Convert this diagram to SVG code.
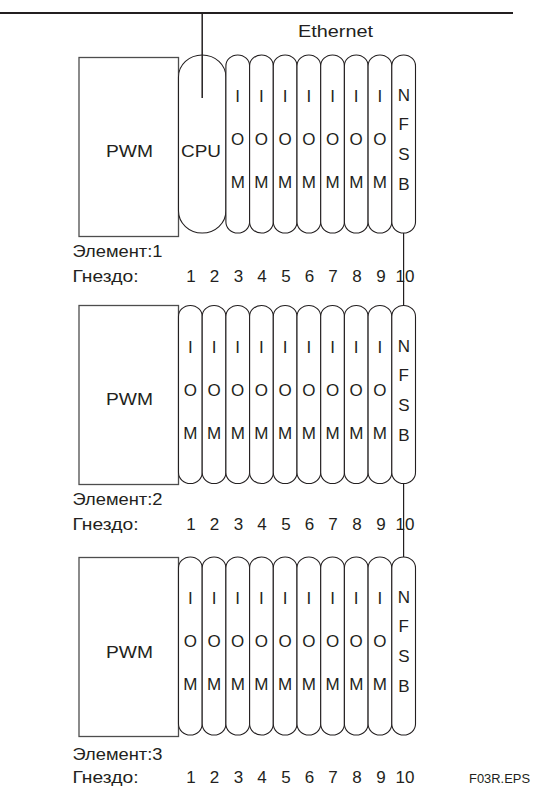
<svg xmlns="http://www.w3.org/2000/svg" xmlns:xlink="http://www.w3.org/1999/xlink" width="533" height="787" viewBox="0 0 533 787">
<style>
  text{font-family:"Liberation Sans",Arial,sans-serif;fill:#231f20;font-size:17px}
  .c{text-anchor:middle}
  .pwm{fill:#fff;stroke:#4d4d4d;stroke-width:1.3}
  .slot{fill:#fff;stroke:#231f20;stroke-width:1.1}
  .wire{stroke:#231f20;fill:none}
  .small{font-size:12.5px}
</style>
<defs>
  <rect id="s" class="slot" width="23.7" height="178" rx="11.85" ry="11"/>
  <g id="iom">
    <use xlink:href="#s"/>
    <text class="c" x="11.85" y="47">I</text>
    <text class="c" x="11.85" y="90">O</text>
    <text class="c" x="11.85" y="133">M</text>
  </g>
  <g id="nfsb">
    <use xlink:href="#s"/>
    <text class="c" x="12" y="46">N</text>
    <text class="c" x="12" y="75">F</text>
    <text class="c" x="12" y="105">S</text>
    <text class="c" x="12" y="135">B</text>
  </g>
  <g id="nums">
    <text class="c" x="191">1</text>
    <text class="c" x="214.5">2</text>
    <text class="c" x="238.5">3</text>
    <text class="c" x="262">4</text>
    <text class="c" x="286">5</text>
    <text class="c" x="309.5">6</text>
    <text class="c" x="333">7</text>
    <text class="c" x="357">8</text>
    <text class="c" x="381">9</text>
    <text class="c" x="405">10</text>
  </g>
</defs>

<text id="ethernet-label" class="c" x="335.5" y="36.5" textLength="75" lengthAdjust="spacingAndGlyphs">Ethernet</text>

<!-- Unit 1 -->
<g id="unit1">
  <g id="u1-pwm">
    <rect class="pwm" x="79" y="57.5" width="99.5" height="179"/>
    <text class="c" x="129.5" y="157" textLength="47" lengthAdjust="spacingAndGlyphs">PWM</text>
  </g>
  <g id="u1-cpu">
    <rect class="slot" x="178.5" y="55" width="47.4" height="178" rx="23.7" ry="22"/>
    <text class="c" x="201" y="156.5" textLength="40" lengthAdjust="spacingAndGlyphs">CPU</text>
  </g>
  <g id="u1-s3"><use xlink:href="#iom" x="225.9" y="55"/></g>
  <g id="u1-s4"><use xlink:href="#iom" x="249.6" y="55"/></g>
  <g id="u1-s5"><use xlink:href="#iom" x="273.3" y="55"/></g>
  <g id="u1-s6"><use xlink:href="#iom" x="297.0" y="55"/></g>
  <g id="u1-s7"><use xlink:href="#iom" x="320.7" y="55"/></g>
  <g id="u1-s8"><use xlink:href="#iom" x="344.4" y="55"/></g>
  <g id="u1-s9"><use xlink:href="#iom" x="368.1" y="55"/></g>
  <g id="u1-s10"><use xlink:href="#nfsb" x="391.8" y="55"/></g>
  <text x="72.5" y="256.5" textLength="90" lengthAdjust="spacingAndGlyphs">Элемент:1</text>
  <text x="72.5" y="281.5" textLength="66" lengthAdjust="spacingAndGlyphs">Гнездо:</text>
  <use xlink:href="#nums" y="281.5"/>
</g>

<!-- Unit 2 -->
<g id="unit2">
  <g id="u2-pwm">
    <rect class="pwm" x="79" y="305.5" width="99.5" height="179"/>
    <text class="c" x="129.5" y="405" textLength="47" lengthAdjust="spacingAndGlyphs">PWM</text>
  </g>
  <g id="u2-s1"><use xlink:href="#iom" x="178.5" y="305.5"/></g>
  <g id="u2-s2"><use xlink:href="#iom" x="202.2" y="305.5"/></g>
  <g id="u2-s3"><use xlink:href="#iom" x="225.9" y="305.5"/></g>
  <g id="u2-s4"><use xlink:href="#iom" x="249.6" y="305.5"/></g>
  <g id="u2-s5"><use xlink:href="#iom" x="273.3" y="305.5"/></g>
  <g id="u2-s6"><use xlink:href="#iom" x="297.0" y="305.5"/></g>
  <g id="u2-s7"><use xlink:href="#iom" x="320.7" y="305.5"/></g>
  <g id="u2-s8"><use xlink:href="#iom" x="344.4" y="305.5"/></g>
  <g id="u2-s9"><use xlink:href="#iom" x="368.1" y="305.5"/></g>
  <g id="u2-s10"><use xlink:href="#nfsb" x="391.8" y="305.5"/></g>
  <text x="72.5" y="505" textLength="90" lengthAdjust="spacingAndGlyphs">Элемент:2</text>
  <text x="72.5" y="529.5" textLength="66" lengthAdjust="spacingAndGlyphs">Гнездо:</text>
  <use xlink:href="#nums" y="529.5"/>
</g>

<!-- Unit 3 -->
<g id="unit3">
  <g id="u3-pwm">
    <rect class="pwm" x="79" y="557.5" width="99.5" height="179"/>
    <text class="c" x="129.5" y="658" textLength="47" lengthAdjust="spacingAndGlyphs">PWM</text>
  </g>
  <g id="u3-s1"><use xlink:href="#iom" x="178.5" y="557"/></g>
  <g id="u3-s2"><use xlink:href="#iom" x="202.2" y="557"/></g>
  <g id="u3-s3"><use xlink:href="#iom" x="225.9" y="557"/></g>
  <g id="u3-s4"><use xlink:href="#iom" x="249.6" y="557"/></g>
  <g id="u3-s5"><use xlink:href="#iom" x="273.3" y="557"/></g>
  <g id="u3-s6"><use xlink:href="#iom" x="297.0" y="557"/></g>
  <g id="u3-s7"><use xlink:href="#iom" x="320.7" y="557"/></g>
  <g id="u3-s8"><use xlink:href="#iom" x="344.4" y="557"/></g>
  <g id="u3-s9"><use xlink:href="#iom" x="368.1" y="557"/></g>
  <g id="u3-s10"><use xlink:href="#nfsb" x="391.8" y="557"/></g>
  <text x="72.5" y="759.5" textLength="90" lengthAdjust="spacingAndGlyphs">Элемент:3</text>
  <text x="72.5" y="783" textLength="66" lengthAdjust="spacingAndGlyphs">Гнездо:</text>
  <use xlink:href="#nums" y="783"/>
</g>

<text class="small" x="469" y="783" textLength="61" lengthAdjust="spacingAndGlyphs">F03R.EPS</text>

<g id="connectors">
  <line class="wire" x1="0" y1="13" x2="513" y2="13" stroke-width="2"/>
  <line class="wire" x1="202.2" y1="13" x2="202.2" y2="98" stroke-width="1.5"/>
  <line class="wire" x1="403.6" y1="233" x2="403.6" y2="305.5" stroke-width="1.2"/>
  <line class="wire" x1="403.6" y1="483.5" x2="403.6" y2="557" stroke-width="1.2"/>
</g>
</svg>
